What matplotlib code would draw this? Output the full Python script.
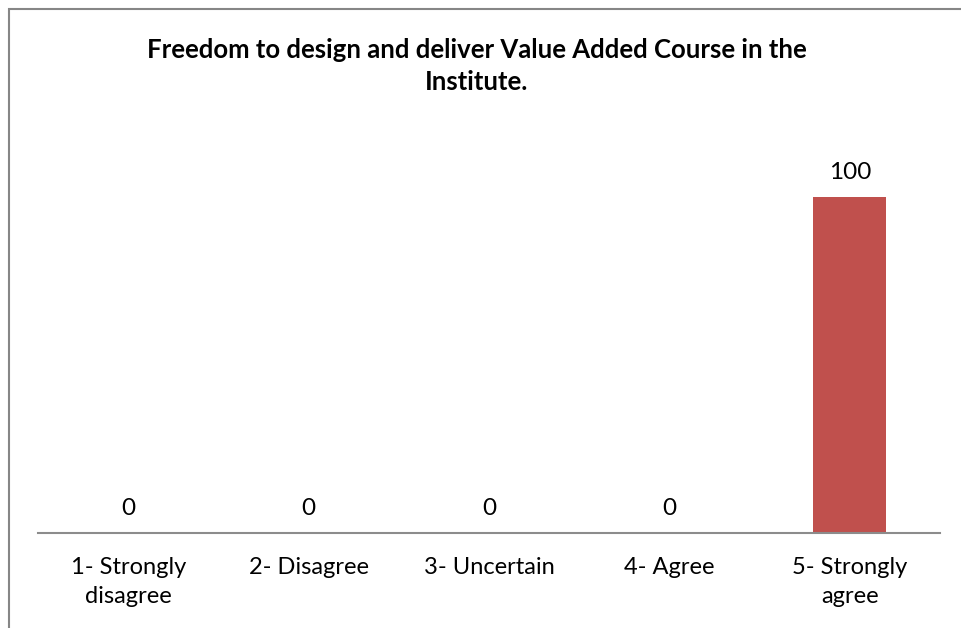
import numpy as np
from matplotlib import pyplot as plt
from matplotlib.patches import Rectangle

categories = ['1- Strongly\ndisagree', '2- Disagree', '3- Uncertain', '4- Agree', '5- Strongly\nagree']
values = [0, 0, 0, 0, 100]
title = 'Freedom to design and deliver Value Added Course in the\nInstitute.'

plt.rcParams['font.family'] = ['Lato', 'DejaVu Sans']

fig = plt.figure(figsize=(9.62, 6.28), dpi=100)
ax = fig.add_axes([38/962, 95/628, (940-38)/962, (498-95)/628])

x = np.arange(len(categories))
ax.bar(x, values, width=0.405, color='#C0504D')
ax.set_xlim(-0.5, len(categories) - 0.5)
ax.set_ylim(0, 120)

for xi, v in zip(x, values):
    ax.annotate(str(v), (xi, v), xytext=(0, 17.5), textcoords='offset points',
                ha='center', va='center', fontsize=17.5)

ax.set_xticks(x)
ax.set_xticklabels(categories, fontsize=17, linespacing=1.5)
ax.tick_params(axis='x', length=0, pad=17)
ax.set_yticks([])
for s in ['top', 'right', 'left']:
    ax.spines[s].set_visible(False)
ax.spines['bottom'].set_color('#8c8c8c')
ax.spines['bottom'].set_linewidth(1.5)

fig.text(477/962, 1 - 66/628, title, ha='center', va='center',
         fontsize=18.5, fontweight='bold', linespacing=1.45)

# chart border
fig.patches.append(Rectangle((8.5/962, -0.5), 2, 1.5 - 8.5/628,
                             transform=fig.transFigure, fill=False,
                             edgecolor='#868686', linewidth=1.5, clip_on=False))

fig.savefig('out.png', dpi=100)
